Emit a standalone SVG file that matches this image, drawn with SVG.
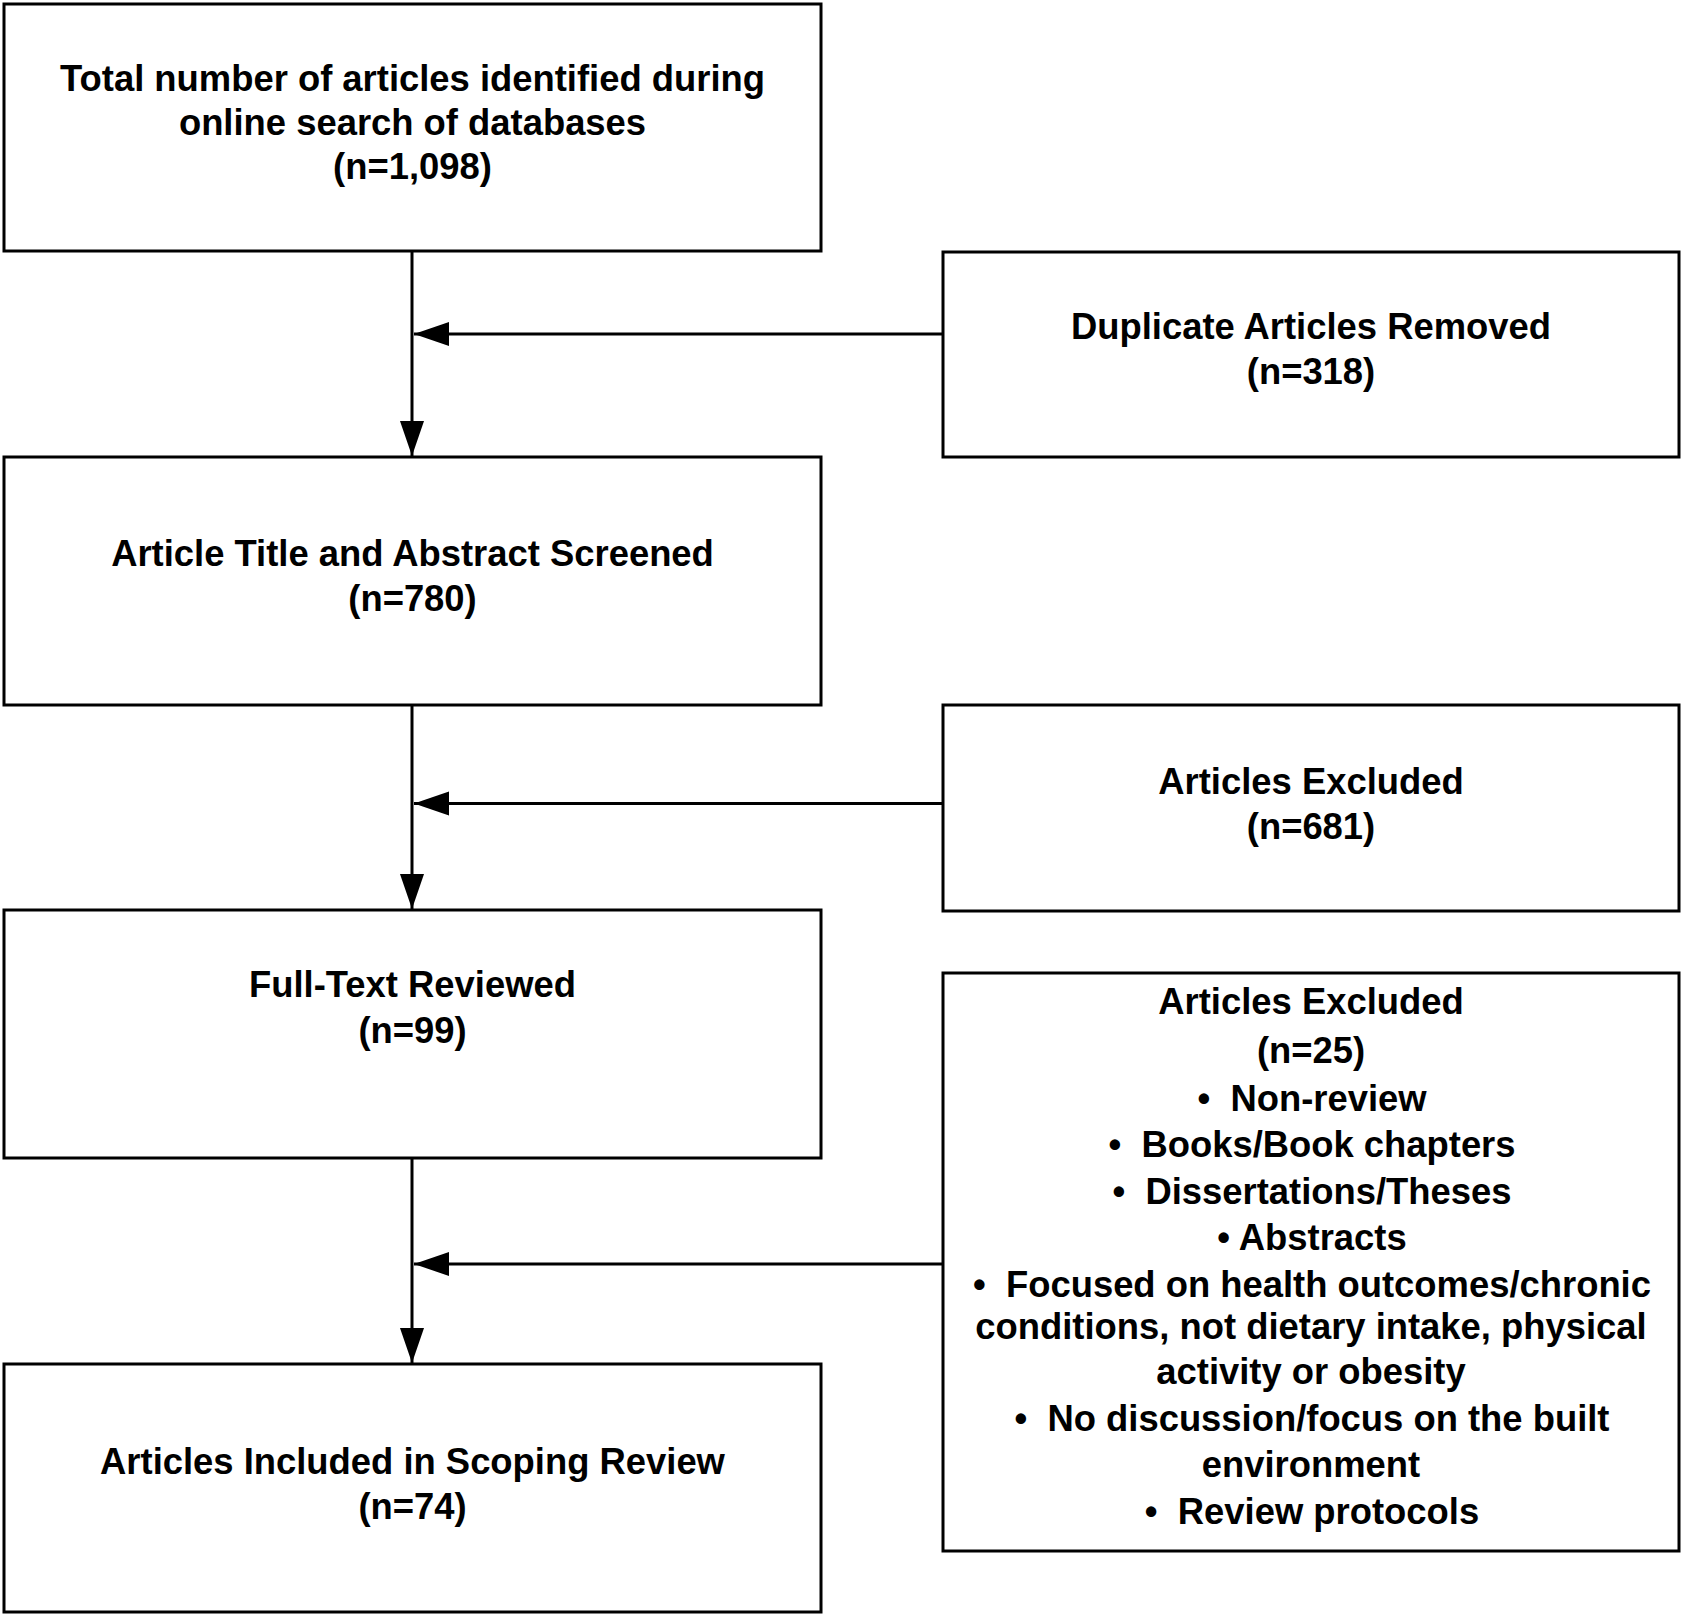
<svg xmlns="http://www.w3.org/2000/svg" width="1682" height="1616" viewBox="0 0 1682 1616">
<style>
.box{fill:#fff;stroke:#000;stroke-width:3}
.con{fill:none;stroke:#000;stroke-width:3}
text{font-family:"Liberation Sans",Arial,sans-serif;font-weight:bold;font-size:36.4px;fill:#000;text-anchor:middle}
</style>
<defs>
<marker id="arr" markerUnits="userSpaceOnUse" markerWidth="36" markerHeight="26" viewBox="0 -13 36 26" refX="35" refY="0" orient="auto">
<path d="M0,-12 L35,0 L0,12 z" fill="#000"/>
</marker>
</defs>
<rect width="1682" height="1616" fill="#fff"/>
<g id="connectors">
<line class="con" x1="412" y1="251" x2="412" y2="456" marker-end="url(#arr)"/>
<line class="con" x1="412" y1="705" x2="412" y2="909" marker-end="url(#arr)"/>
<line class="con" x1="412" y1="1158" x2="412" y2="1363" marker-end="url(#arr)"/>
<line class="con" x1="943" y1="334" x2="414" y2="334" marker-end="url(#arr)"/>
<line class="con" x1="943" y1="803.5" x2="414" y2="803.5" marker-end="url(#arr)"/>
<line class="con" x1="943" y1="1264" x2="414" y2="1264" marker-end="url(#arr)"/>
</g>
<g id="n1">
<rect class="box" x="4" y="4" width="817" height="247"/>
<text x="412.5" y="91">Total number of articles identified during</text>
<text x="412.5" y="135">online search of databases</text>
<text x="412.5" y="179">(n=1,098)</text>
</g>
<g id="n2">
<rect class="box" x="943" y="252" width="736" height="205"/>
<text x="1311" y="339">Duplicate Articles Removed</text>
<text x="1311" y="384">(n=318)</text>
</g>
<g id="n3">
<rect class="box" x="4" y="457" width="817" height="248"/>
<text x="412.5" y="566">Article Title and Abstract Screened</text>
<text x="412.5" y="611">(n=780)</text>
</g>
<g id="n4">
<rect class="box" x="943" y="705" width="736" height="206"/>
<text x="1311" y="794">Articles Excluded</text>
<text x="1311" y="839">(n=681)</text>
</g>
<g id="n5">
<rect class="box" x="4" y="910" width="817" height="248"/>
<text x="412.5" y="997">Full-Text Reviewed</text>
<text x="412.5" y="1043">(n=99)</text>
</g>
<g id="n6">
<rect class="box" x="943" y="973" width="736" height="578"/>
<text x="1311" y="1014">Articles Excluded</text>
<text x="1311" y="1063">(n=25)</text>
<text x="1312" y="1111">•&#160; Non-review</text>
<text x="1312" y="1157">•&#160; Books/Book chapters</text>
<text x="1312" y="1204">•&#160; Dissertations/Theses</text>
<text x="1312" y="1250">• Abstracts</text>
<text x="1312" y="1297">•&#160; Focused on health outcomes/chronic</text>
<text x="1311" y="1339">conditions, not dietary intake, physical</text>
<text x="1311" y="1384">activity or obesity</text>
<text x="1312" y="1431">•&#160; No discussion/focus on the built</text>
<text x="1311" y="1477">environment</text>
<text x="1312" y="1524">•&#160; Review protocols</text>
</g>
<g id="n7">
<rect class="box" x="4" y="1364" width="817" height="248"/>
<text x="412.5" y="1474">Articles Included in Scoping Review</text>
<text x="412.5" y="1519">(n=74)</text>
</g>
</svg>
